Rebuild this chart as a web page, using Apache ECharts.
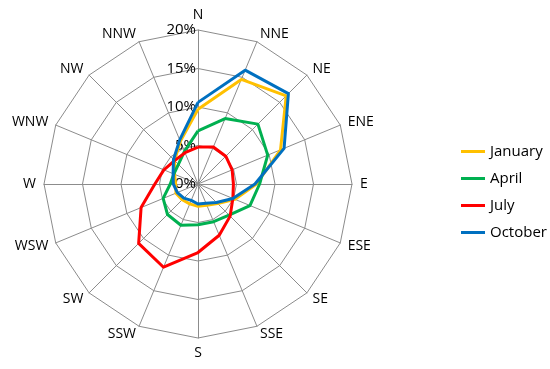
<!DOCTYPE html>
<html>
<head>
<meta charset="utf-8">
<script src="https://cdn.jsdelivr.net/npm/echarts@6/dist/echarts.min.js"></script>
<style>
html,body{margin:0;padding:0;background:#fff;}
#chart{width:550px;height:369px;}
</style>
</head>
<body>
<div id="chart"></div>
<script>
var directions = ['N','NNE','NE','ENE','E','ESE','SE','SSE','S','SSW','SW','WSW','W','WNW','NW','NNW'];
var seriesNames = ['January','April','July','October'];
var january = [9.7, 14.7, 16.2, 11.6, 7.6, 5.2, 3.6, 3.0, 2.9, 2.8, 2.9, 3.1, 2.9, 3.3, 4.3, 6.0];
var april   = [6.9, 9.2, 11.0, 9.8, 8.0, 7.3, 5.7, 5.3, 5.3, 5.8, 5.6, 4.9, 3.6, 3.4, 3.6, 4.6];
var july    = [4.8, 5.2, 5.1, 4.8, 4.6, 4.9, 5.9, 7.2, 8.9, 11.7, 10.9, 8.0, 5.6, 4.8, 4.3, 4.4];
var october = [10.6, 16.0, 16.6, 12.1, 7.4, 4.9, 3.4, 2.7, 2.6, 2.3, 2.6, 2.9, 3.2, 3.5, 4.5, 6.2];
var axisMax = 20;
var axisStep = 5;
var colors = ['#FFC000','#00B050','#FF0000','#0070C0'];
var allData = [january, april, july, october];

// ECharts radar runs counter-clockwise; reorder so the compass runs clockwise
var order = directions.map(function(d,i){ return i===0 ? 0 : directions.length - i; });
function reorder(arr){ return order.map(function(k){ return arr[k]; }); }

var font = '"Open Sans", "Noto Sans", sans-serif';

var chart = echarts.init(document.getElementById('chart'), null, {renderer:'canvas'});
var option = {
  animation:false,
  backgroundColor:'#ffffff',
  color: colors,
  legend: {
    orient:'vertical',
    left: 456,
    top: 139,
    itemWidth: 24,
    itemHeight: 12,
    itemGap: 12,
    textStyle:{fontFamily:font, fontSize:15, color:'#000'},
    data: seriesNames.map(function(n,i){return {name:n, itemStyle:{color:colors[i]}, icon:'path://M0,5 L24,5 L24,8 L0,8 Z'};})
  },
  radar: {
    center:[198,184],
    radius:154,
    startAngle:90,
    shape:'polygon',
    splitNumber: axisMax/axisStep,
    axisName:{color:'#000', fontFamily:font, fontSize:14},
    nameGap: 8,
    splitLine:{lineStyle:{color:'#8c8c8c', width:1}},
    splitArea:{show:false},
    axisLine:{lineStyle:{color:'#8c8c8c', width:1}},
    axisTick:{show:false},
    axisLabel:{show:false},
    indicator: reorder(directions).map(function(d,i){
      var ind = {name:d, min:0, max:axisMax};
      if(i===0){
        ind.axisLabel = {show:true, color:'#000', fontFamily:font, fontSize:15,
          formatter:function(v){return v+'%';}, margin:2, showMinLabel:true};
      }
      return ind;
    })
  },
  series: [{
    type:'radar',
    symbol:'none',
    lineStyle:{width:3},
    data: seriesNames.map(function(n,i){
      return {name:n, value:reorder(allData[i]), lineStyle:{color:colors[i], width:3}, itemStyle:{color:colors[i]}};
    })
  }]
};
chart.setOption(option);
</script>
</body>
</html>
